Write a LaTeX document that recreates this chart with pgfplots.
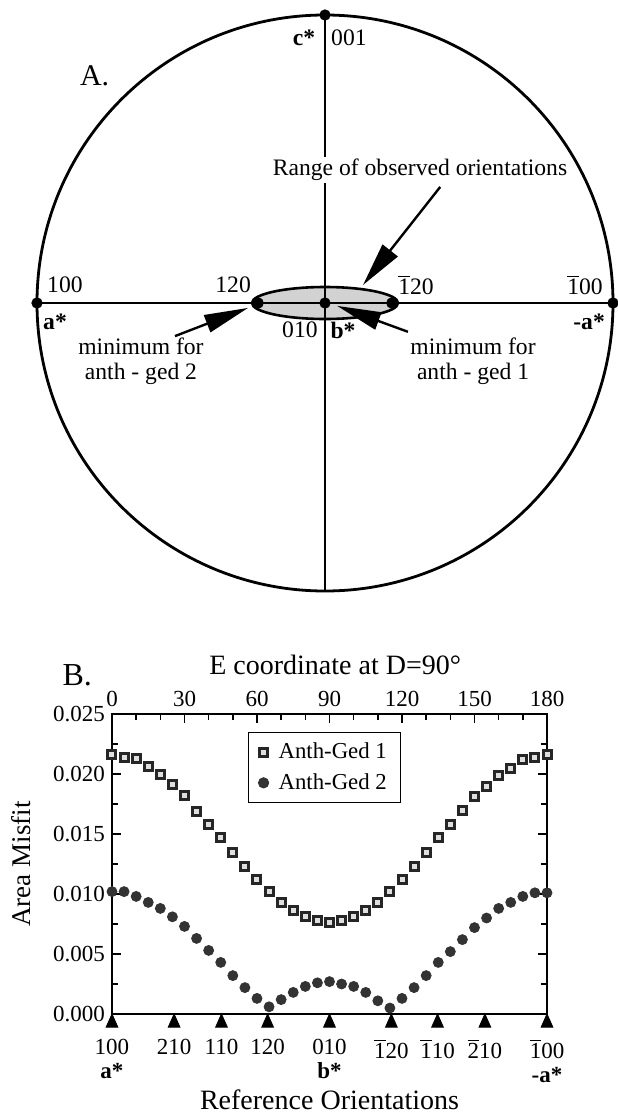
\documentclass[border=0pt]{standalone}
\usepackage{fontspec}
\setmainfont{Liberation Serif}
\usepackage{pgfplots}
\pgfplotsset{compat=1.18}
\usetikzlibrary{arrows.meta}

\newcommand{\bo}{$\overline{\mbox{1}}$}
\newcommand{\bt}{$\overline{\mbox{2}}$}
\newcommand{\lab}{\fontsize{11.8}{12.6}\selectfont}

% area misfit against E coordinate (D = 90)
\pgfplotstableread{
E misfit
0 0.0216
5 0.0214
10 0.0213
15 0.0206
20 0.0200
25 0.0191
30 0.0182
35 0.0169
40 0.0158
45 0.0147
50 0.0135
55 0.0123
60 0.0112
65 0.0102
70 0.0093
75 0.0086
80 0.0081
85 0.0078
90 0.0076
95 0.0078
100 0.0081
105 0.0086
110 0.0093
115 0.0102
120 0.0112
125 0.0123
130 0.0135
135 0.0147
140 0.0158
145 0.0170
150 0.0181
155 0.0190
160 0.0199
165 0.0205
170 0.0212
175 0.0214
180 0.0216
}\gedone

\pgfplotstableread{
E misfit
0 0.0102
5 0.0102
10 0.0098
15 0.0093
20 0.0088
25 0.0081
30 0.0073
35 0.0063
40 0.0053
45 0.0043
50 0.0032
55 0.0022
60 0.0013
65 0.0006
70 0.0012
75 0.0018
80 0.0023
85 0.0026
90 0.0027
95 0.0025
100 0.0023
105 0.0018
110 0.0011
115 0.0005
120 0.0013
125 0.0022
130 0.0032
135 0.0043
140 0.0052
145 0.0062
150 0.0072
155 0.0080
160 0.0088
165 0.0093
170 0.0098
175 0.0101
180 0.0101
}\gedtwo

\begin{document}
\begin{tikzpicture}
\useasboundingbox (0,0) rectangle (308.5pt,-557pt);

% ---------- A. stereonet sketch ----------
\begin{axis}[
    at={(162.5pt,-151.5pt)}, anchor=origin,
    x=144pt, y=144pt,
    xmin=-1.05, xmax=1.05, ymin=-1.05, ymax=1.05,
    axis lines=none, clip=false,
]
\draw[fill=gray!35, draw=none] (axis cs:0,0) ellipse[x radius=36.5pt, y radius=8pt];
\addplot[black, line width=0.8pt] coordinates {(-1,0) (1,0)};
\addplot[black, line width=0.8pt] coordinates {(0,-1) (0,1)};
\draw[line width=1.3pt] (axis cs:0,0) ellipse[x radius=36.5pt, y radius=8pt];
\draw[line width=1.4pt] (axis cs:0,0) circle[radius=144pt];
\addplot[only marks, mark=*, black, mark size=2.6pt]
    coordinates {(-1,0) (1,0) (0,1) (0,0) (-0.232,0) (0.232,0)};

\node[font=\fontsize{15}{16}\selectfont] at (axis cs:-0.80,0.79) {A.};
\node[font=\lab\bfseries] at (axis cs:-0.073,0.92) {c*};
\node[font=\lab] at (axis cs:0.083,0.92) {001};
\node[font=\lab, fill=white, inner sep=1pt] at (axis cs:0.33,0.462) {Range of observed orientations};
\node[font=\lab] at (axis cs:-0.903,0.0625) {100};
\node[font=\lab\bfseries] at (axis cs:-0.9375,-0.066) {a*};
\node[font=\lab] at (axis cs:-0.319,0.0625) {120};
\node[font=\lab] at (axis cs:0.316,0.0625) {\bo20};
\node[font=\lab] at (axis cs:0.903,0.0625) {\bo00};
\node[font=\lab\bfseries] at (axis cs:0.917,-0.066) {-a*};
\node[font=\lab] at (axis cs:-0.087,-0.094) {010};
\node[font=\lab\bfseries] at (axis cs:0.0625,-0.094) {b*};
\node[font=\lab, align=center] at (axis cs:-0.639,-0.201) {minimum for\\anth - ged 2};
\node[font=\lab, align=center] at (axis cs:0.514,-0.201) {minimum for\\anth - ged 1};

\draw[line width=1.2pt, -{Triangle[length=22pt,width=9.5pt]}]
    (axis cs:0.40,0.403) -- (axis cs:0.132,0.0625);
\draw[line width=1.2pt, -{Triangle[length=22pt,width=9pt]}]
    (axis cs:-0.521,-0.115) -- (axis cs:-0.267,-0.017);
\draw[line width=1.2pt, -{Triangle[length=22pt,width=9pt]}]
    (axis cs:0.288,-0.10) -- (axis cs:0.042,-0.010);
\end{axis}

% ---------- B. misfit curves ----------
\begin{axis}[
    at={(56pt,-507pt)}, anchor=south west,
    scale only axis, width=217.5pt, height=150pt,
    xmin=0, xmax=180, ymin=0, ymax=0.025,
    clip=false,
    axis line style={line width=1pt},
    tick style={line width=0.8pt, black},
    tick align=inside,
    major tick length=4.5pt, minor tick length=3pt,
    xtick=\empty, minor xtick={0,10,...,180}, xtick pos=lower,
    extra x ticks={0,25.7,45.3,64.4,90,115.6,134.7,154.3,180},
    extra x tick labels={100\\\textbf{a*},210,110,120,010\\\textbf{b*},\bo20,\bo10,\bt10,\bo00\\\textbf{-a*}},
    extra x tick style={major tick length=0pt,
        xticklabel style={align=center, yshift=-9pt, font=\fontsize{11.5}{12}\selectfont}},
    ytick={0,0.005,0.01,0.015,0.02,0.025}, minor y tick num=1, ytick pos=both,
    yticklabel pos=left,
    scaled y ticks=false,
    yticklabel style={font=\fontsize{11.5}{12}\selectfont,
        /pgf/number format/.cd, fixed, fixed zerofill, precision=3, assume math mode=true},
    ylabel={Area Misfit},
    ylabel style={at={(axis description cs:-0.209,0.5)}, anchor=center, rotate=0, font=\fontsize{13.5}{14}\selectfont},
    xlabel={Reference Orientations},
    xlabel style={at={(axis description cs:0.5,-0.287)}, anchor=center, font=\fontsize{14}{15}\selectfont},
    legend style={at={(0.3126,0.94)}, anchor=north west, draw=black, line width=0.6pt,
        font=\fontsize{11.4}{13}\selectfont, row sep=2pt, column sep=3pt,
        inner xsep=5pt, inner ysep=3pt},
    legend cell align=left,
]
\addplot[only marks, mark=square*, mark size=2pt,
    mark options={draw=black!85, fill=gray!25, line width=1.5pt}]
    table[x=E, y=misfit] {\gedone};
\addlegendentry{Anth-Ged 1}
\addplot[only marks, mark=*, mark size=2.5pt, mark options={draw=black!80, fill=black!80}]
    table[x=E, y=misfit] {\gedtwo};
\addlegendentry{Anth-Ged 2}
\addplot[only marks, mark=triangle*, black, mark size=3.4pt,
    mark options={yshift=-4.4pt, yscale=1.3}, forget plot]
    coordinates {(0,0) (25.7,0) (45.3,0) (64.4,0) (90,0) (115.6,0) (134.7,0) (154.3,0) (180,0)};
\node[font=\fontsize{16}{18}\selectfont] at (axis description cs:-0.08,1.13) {B.};
\end{axis}

\begin{axis}[
    at={(56pt,-507pt)}, anchor=south west,
    scale only axis, width=217.5pt, height=150pt,
    xmin=0, xmax=180, ymin=0, ymax=1,
    axis x line*=top, axis y line=none,
    axis line style={line width=1pt, -},
    tick style={line width=0.8pt, black},
    tick align=inside,
    major tick length=4.5pt, minor tick length=3pt,
    xtick={0,30,...,180}, minor xtick={0,10,...,180},
    xticklabel style={font=\fontsize{11.5}{12}\selectfont, /pgf/number format/assume math mode=true},
    xlabel={E coordinate at D=90°},
    xlabel style={at={(axis description cs:0.513,1.163)}, anchor=center, font=\fontsize{14}{15}\selectfont},
]
\addplot[draw=none] coordinates {(0,0)};
\end{axis}
\end{tikzpicture}
\end{document}
